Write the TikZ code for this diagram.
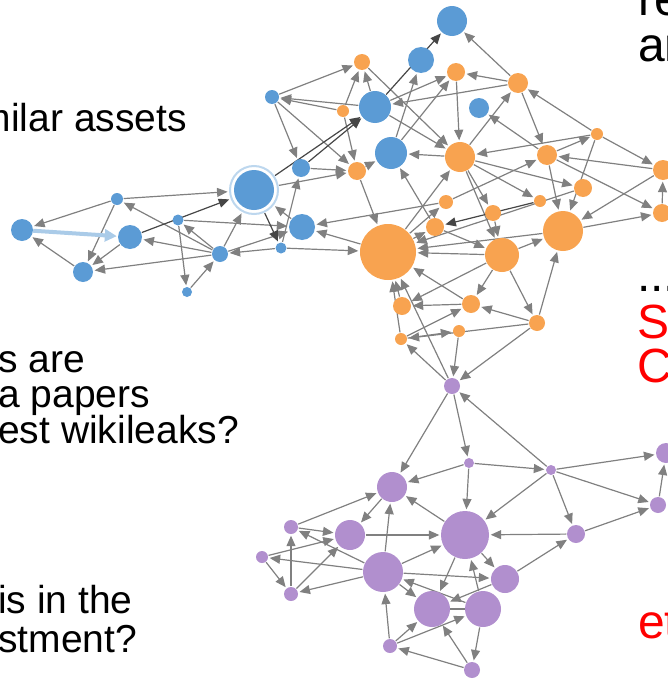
\documentclass[tikz,border=0pt]{standalone}
\usepackage{fontspec}
\setmainfont{Liberation Sans}
\usetikzlibrary{arrows.meta}
\definecolor{bluec}{RGB}{91,155,213}
\definecolor{orangec}{RGB}{248,163,80}
\definecolor{purplec}{RGB}{177,143,206}
\definecolor{edgec}{RGB}{128,128,128}
\definecolor{darkedge}{RGB}{70,70,70}
\definecolor{ringc}{RGB}{189,215,238}
\definecolor{hlc}{RGB}{170,203,232}
\definecolor{redc}{RGB}{255,0,0}
\pgfdeclarelayer{bg}
\pgfsetlayers{bg,main}
\tikzset{
  dot/.style={circle,draw=none,inner sep=0pt,minimum size=2*#1},
  bn/.style={dot=#1,fill=bluec},
  on/.style={dot=#1,fill=orangec},
  pn/.style={dot=#1,fill=purplec},
  lnk/.style={draw=edgec,line width=1.2pt,-{Triangle[length=10.5pt,width=9pt]},shorten >=1.5pt,shorten <=0.5pt},
  dlnk/.style={lnk,draw=darkedge},
  txt/.style={inner sep=0pt,font=\fontsize{39}{43}\selectfont,text=black},
  bigtxt/.style={inner sep=0pt,font=\fontsize{48}{52}\selectfont,text=black},
  rtxt/.style={bigtxt,text=redc}
}
\begin{document}
\begin{tikzpicture}[x=1pt,y=-1pt]
\useasboundingbox (0,0) rectangle (668,680);
\clip (0,0) rectangle (668,680);
% blue nodes
\node[bn=11] (b1) at (22,230) {};
\node[bn=12] (b2) at (130,237) {};
\node[bn=10] (b3) at (83,272) {};
\node[bn=6] (b4) at (117,199) {};
\node[bn=5.5] (b5) at (178,220) {};
\node[bn=8] (b6) at (220,254) {};
\node[bn=5] (b7) at (187,292) {};
\node[circle,draw=ringc,line width=2pt,fill=white,inner sep=0pt,minimum size=48] (b8) at (254,190) {};
\node[bn=20] (b8i) at (254,190) {};
\node[bn=13] (b9) at (302,227) {};
\node[bn=5.5] (b10) at (281,248) {};
\node[bn=9] (b11) at (301,168) {};
\node[bn=16] (b12) at (391,153) {};
\node[bn=16] (b13) at (375,107) {};
\node[bn=7] (b14) at (272,97) {};
\node[bn=13] (b15) at (421,60) {};
\node[bn=15] (b16) at (452,21) {};
\node[bn=10] (b17) at (479,108) {};
% orange nodes
\node[on=8] (o1) at (362,62) {};
\node[on=9] (o2) at (456,72) {};
\node[on=10] (o3) at (518,83) {};
\node[on=6] (o4) at (343,111) {};
\node[on=15] (o5) at (460,157) {};
\node[on=9] (o6) at (357,171) {};
\node[on=10] (o7) at (547,155) {};
\node[on=6] (o8) at (597,134) {};
\node[on=10] (o9) at (663,170) {};
\node[on=9] (o10) at (662,213) {};
\node[on=9] (o11) at (583,188) {};
\node[on=6] (o12) at (540,201) {};
\node[on=20] (o13) at (563,231) {};
\node[on=7] (o14) at (446,202) {};
\node[on=8] (o15) at (493,213) {};
\node[on=9] (o16) at (435,227) {};
\node[on=28] (o17) at (388,252) {};
\node[on=17] (o18) at (502,255) {};
\node[on=9] (o19) at (402,306) {};
\node[on=9] (o20) at (471,304) {};
\node[on=8] (o21) at (537,323) {};
\node[on=6] (o22) at (459,331) {};
\node[on=6] (o23) at (401,339) {};
% purple nodes
\node[pn=8] (p1) at (452,386) {};
\node[pn=5] (p2) at (469,463) {};
\node[pn=5] (p3) at (551,470) {};
\node[pn=10] (p4) at (666,453) {};
\node[pn=8] (p5) at (658,505) {};
\node[pn=15] (p6) at (392,487) {};
\node[pn=24] (p7) at (465,535) {};
\node[pn=9] (p8) at (576,534) {};
\node[pn=7] (p9) at (291,527) {};
\node[pn=15] (p10) at (350,535) {};
\node[pn=6] (p11) at (262,557) {};
\node[pn=20] (p12) at (383,572) {};
\node[pn=7] (p13) at (291,594) {};
\node[pn=14] (p14) at (505,579) {};
\node[pn=18] (p15) at (432,609) {};
\node[pn=18] (p16) at (483,609) {};
\node[pn=7] (p17) at (390,646) {};
\node[pn=8] (p18) at (472,670) {};
% edges
\begin{pgfonlayer}{bg}
\foreach \a/\b in {b4/b1,b3/b1,b4/b3,b2/b3,b6/b2,b6/b3,b5/b7,b7/b6,b6/b5,b6/b4,b4/b8,b5/b9,b6/b8,b10/b6,b6/b9,b10/b11,b10/o17,b9/b8,b8/o6,
  b14/o1,b14/b11,b14/o6,o4/b14,b13/b14,o4/o1,b13/o1,o1/o5,b12/b15,b13/o2,b12/o2,o3/o2,o3/b13,o3/b16,o3/o7,o5/o3,o7/b17,o8/o3,o8/o9,o9/o7,o8/o5,o7/o8,o8/o13,o5/o11,o5/o12,o7/o10,o13/o10,o10/o9,o9/o13,o14/o7,o17/o16,o17/o5,o16/b12,o5/b12,o6/o17,o17/b9,o14/b9,b11/o6,o6/b12,b13/o5,o2/o5,o4/o6,o5/o18,o5/o15,o18/o17,o13/o17,o16/o18,o18/o13,o18/o20,o18/o21,o21/o13,o21/o20,o20/o19,o21/o23,o18/o19,o20/o17,o19/o17,o23/o17,o23/o22,o22/p1,p1/o23,p1/o17,o21/p1,o23/o20,o11/o17,o15/o18,o7/o13,o17/o14,
  p1/p6,p1/p2,p3/p1,p2/p6,p2/p3,p2/p7,p3/p4,p3/p5,p3/p7,p3/p8,p5/p4,p8/p5,p8/p7,p7/p6,p14/p8,p12/p6,p6/p10,p9/p6,p10/p7,p9/p10,p12/p7,p12/p9,p11/p10,p12/p11,p11/p13,p13/p9,p13/p10,p12/p13,p12/p14,p7/p15,p16/p7,p7/p14,p16/p12,p12/p15,p14/p15,p17/p12,p17/p15,p17/p16,p18/p17,p18/p15,p16/p18}
  \draw[lnk] (\a) -- (\b);
\foreach \a/\b in {b2/b8,b8/b10,b8/b13,b11/b13,b13/b16,o12/o16}
  \draw[dlnk] (\a) -- (\b);
\draw[draw=edgec,line width=1.2pt] (p15) -- (p16);
\draw[draw=hlc,line width=4pt,-{Triangle[length=12pt,width=12pt]},shorten >=1pt] (b1) -- (b2);
\end{pgfonlayer}
% texts
\node[txt,anchor=base east] (t1) at (187,131) {milar assets};
\node[txt,anchor=base west] (t2) at (-2,372) {s are};
\node[txt,anchor=base west] (t3) at (-2,407) {a papers};
\node[txt,anchor=base west] (t4) at (-2,443) {est wikileaks?};
\node[txt,anchor=base west] (t5) at (-2,613) {is in the};
\node[txt,anchor=base west] (t6) at (-2,652) {stment?};
\node[bigtxt,anchor=base west] (t7) at (638,15) {re};
\node[bigtxt,anchor=base west] (t8) at (638,61) {an};
\node[bigtxt,anchor=base west] (t9) at (637,291) {...};
\node[rtxt,anchor=base west] (t10) at (637,338) {S};
\node[rtxt,anchor=base west] (t11) at (637,382) {C};
\node[rtxt,anchor=base west] (t12) at (638,638) {et};
\end{tikzpicture}
\end{document}
